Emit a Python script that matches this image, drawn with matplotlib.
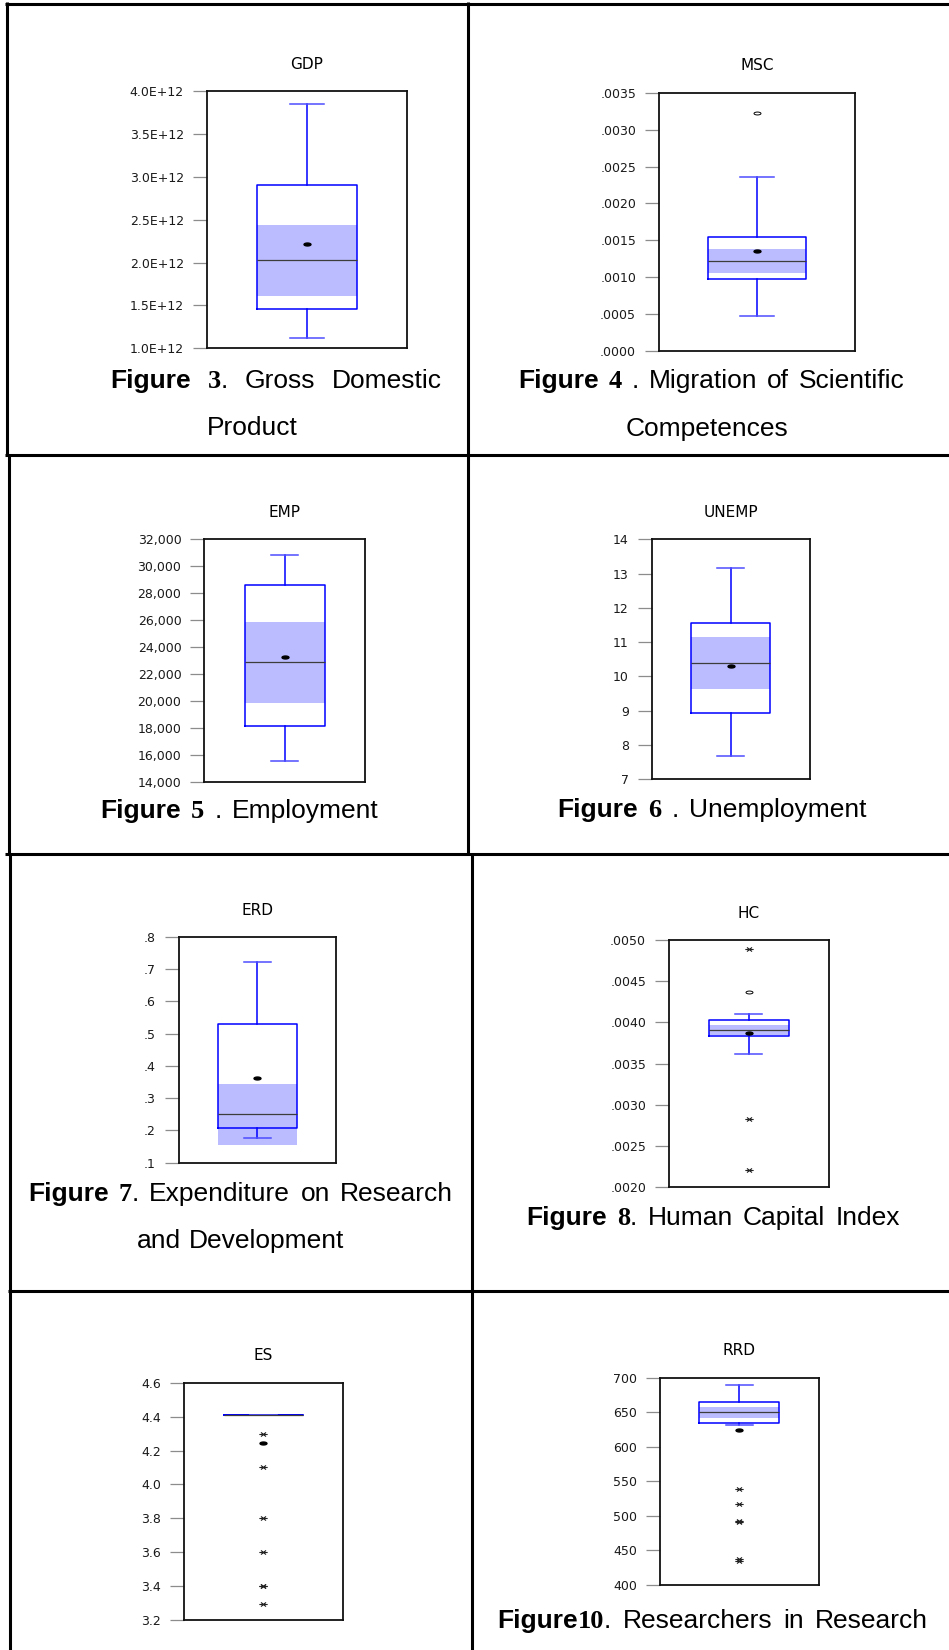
import numpy as np
import matplotlib
matplotlib.use("Agg")
import matplotlib.pyplot as plt
from matplotlib.path import Path

# eight box plots, row by row
titles = ["GDP", "MSC", "EMP", "UNEMP", "ERD", "HC", "ES", "RRD"]
whis_lo = [1.117e12, 0.000474, 15513, 7.68, 0.1766, 0.003613, 4.408, 631.0]
q1 = [1.462e12, 0.000971, 18153, 8.92, 0.2086, 0.003832, 4.407, 634.8]
med = [2.03e12, 0.001224, 22855, 10.40, 0.250, 0.003908, 4.408, 649.9]
q3 = [2.90e12, 0.001541, 28566, 11.57, 0.531, 0.004026, 4.409, 665.2]
whis_hi = [3.848e12, 0.002362, 30791, 13.15, 0.723, 0.004106, 4.409, 689.0]
means = [2.216e12, 0.001351, 23248, 10.30, 0.3636, 0.003875, 4.246, 623.8]
band_lo = [1.61e12, 0.001053, 19859, 9.62, 0.1558, 0.003847, 4.404, 641.2]
band_hi = [2.434e12, 0.001386, 25822, 11.16, 0.343, 0.003969, 4.412, 658.0]
near_out = [[], [0.003221], [], [], [], [0.004369], [], []]
far_out = [[], [], [], [], [],
           [0.004891, 0.002828, 0.002210],
           [4.299, 4.101, 3.802, 3.603, 3.402, 3.398, 3.293],
           [538.3, 516.5, 492.4, 491.4, 436.8, 434.3]]

tick_labels = [
    ["1.0E+12", "1.5E+12", "2.0E+12", "2.5E+12", "3.0E+12", "3.5E+12", "4.0E+12"],
    [".0000", ".0005", ".0010", ".0015", ".0020", ".0025", ".0030", ".0035"],
    ["14,000", "16,000", "18,000", "20,000", "22,000", "24,000", "26,000",
     "28,000", "30,000", "32,000"],
    ["7", "8", "9", "10", "11", "12", "13", "14"],
    [".1", ".2", ".3", ".4", ".5", ".6", ".7", ".8"],
    [".0020", ".0025", ".0030", ".0035", ".0040", ".0045", ".0050"],
    ["3.2", "3.4", "3.6", "3.8", "4.0", "4.2", "4.4", "4.6"],
    ["400", "450", "500", "550", "600", "650", "700"],
]

captions = [
    ["Figure 3. Gross Domestic", "Product"],
    ["Figure 4 . Migration of Scientific", "Competences"],
    ["Figure 5 . Employment"],
    ["Figure 6 . Unemployment"],
    ["Figure 7. Expenditure on Research", "and Development"],
    ["Figure 8. Human Capital Index"],
    [],
    ["Figure10. Researchers in Research"],
]

# layout in pixels of the 949x1650 page
W, H = 949, 1650
axes_px = [  # left, top, right, bottom
    (206.7, 91.0, 407.3, 348.3),
    (659.0, 92.7, 855.3, 351.0),
    (204.3, 539.0, 365.3, 781.7),
    (651.7, 539.3, 810.0, 779.3),
    (178.7, 937.0, 336.0, 1162.7),
    (669.0, 940.0, 828.7, 1187.3),
    (184.0, 1382.7, 342.7, 1620.0),
    (659.7, 1377.7, 818.7, 1584.7),
]
caption_px = [  # x left, x right, baseline, centre of 2nd line, its baseline
    (110, 442, 388, 252, 435),
    (518, 905, 388, 707, 436),
    (100, 379, 818, None, None),
    (557, 867, 817, None, None),
    (28, 453, 1201, 241, 1248),
    (526, 900, 1225, None, None),
    None,
    (497, 928, 1628, None, None),
]
rules = [  # x0, x1, y0, y1
    (5, W, 3.5, 3.5), (5, W, 455.3, 455.3), (5, W, 854.3, 854.3), (8, W, 1291.3, 1291.3),
    (7.0, 7.0, 2, 455), (9.0, 9.0, 455, 854), (10.5, 10.5, 854, H),
    (468.5, 468.5, 2, 854), (472.0, 472.0, 854, H),
]

plt.rcParams["font.family"] = ["DejaVu Sans"]

fig = plt.figure(figsize=(W / 100, H / 100), dpi=100)
ax_bg = fig.add_axes([0, 0, 1, 1])
ax_bg.set_xlim(0, W)
ax_bg.set_ylim(H, 0)
ax_bg.axis("off")
for x0, x1, y0, y1 in rules:
    ax_bg.plot([x0, x1], [y0, y1], color="black", lw=2.2, solid_capstyle="butt")

# markers: flat dot for the mean, flat ring for near outliers, asterisk for far ones
t = np.linspace(0, 2 * np.pi, 40)
ellipse = Path(np.column_stack([np.cos(t), 0.42 * np.sin(t)]), closed=True)
asterisk = Path([(-1, 0), (1, 0), (-0.6, -0.5), (0.6, 0.5), (-0.6, 0.5), (0.6, -0.5)],
                [Path.MOVETO, Path.LINETO] * 3)

blue = "#0000FF"
for i, name in enumerate(titles):
    l, tp, r, b = axes_px[i]
    ax = fig.add_axes([l / W, 1 - b / H, (r - l) / W, (b - tp) / H])
    ticks = [float(s.replace(",", "")) for s in tick_labels[i]]

    ax.bar(0, band_hi[i] - band_lo[i], bottom=band_lo[i], width=1.0,
           color="#BBBBFF", zorder=1)
    stats = dict(whislo=whis_lo[i], q1=q1[i], med=med[i], q3=q3[i],
                 whishi=whis_hi[i], mean=means[i], fliers=[])
    ax.bxp([stats], positions=[0], widths=[1.0], capwidths=[0.34],
           showmeans=True, showfliers=False, zorder=3,
           boxprops=dict(color=blue, lw=1.1),
           whiskerprops=dict(color=blue, lw=1.1),
           capprops=dict(color="#4d4dff", lw=1.1),
           medianprops=dict(color="#3c3c3c", lw=0.9),
           meanprops=dict(marker=ellipse, markersize=5, markerfacecolor="black",
                          markeredgecolor="black"))
    ax.plot(np.zeros(len(near_out[i])), near_out[i], ls="none", marker=ellipse,
            ms=5, mfc="none", mec="black", mew=0.7, zorder=4)
    ax.plot(np.zeros(len(far_out[i])), far_out[i], ls="none", marker=asterisk,
            ms=6, mfc="none", mec="#222222", mew=0.8, zorder=4)

    ax.set_xlim(-1, 1)
    ax.set_ylim(ticks[0], ticks[-1])
    ax.set_xticks([])
    ax.set_yticks(ticks)
    ax.set_yticklabels(tick_labels[i])
    ax.tick_params(axis="y", direction="out", length=10, width=0.9, color="#8c8c8c",
                   labelsize=9, labelcolor="#1a1a1a", pad=6.5)
    for sp in ax.spines.values():
        sp.set_linewidth(1.3)
        sp.set_color("#111111")
    ax.set_title(name, fontsize=11, pad=16)

# captions: bold "Figure", serif number, the rest in Arial-like sans
renderer = fig.canvas.get_renderer()
styles = {"b": dict(family="Liberation Sans", weight="bold"),
          "n": dict(family="Liberation Serif", weight="bold"),
          "r": dict(family="Liberation Sans")}
cap_size = 19


def split_word(word):
    runs = []
    if word.startswith("Figure"):
        runs.append(["Figure", "b"])
        word = word[6:]
    for ch in word:
        kind = "n" if ch.isdigit() else "r"
        if runs and runs[-1][1] == kind:
            runs[-1][0] += ch
        else:
            runs.append([ch, kind])
    return runs


def place_line(text, x0, x1, y, centred=False):
    words = []
    for w in text.split():
        pieces = []
        for s, k in split_word(w):
            tx = ax_bg.text(0, y, s, fontsize=cap_size, va="baseline", ha="left",
                            color="black", **styles[k])
            pieces.append((tx, tx.get_window_extent(renderer).width))
        words.append(pieces)
    widths = [sum(wd for _, wd in p) for p in words]
    if centred:
        gap = 0.3 * cap_size * 100 / 72
        x = x0 - (sum(widths) + gap * (len(words) - 1)) / 2
    else:
        gap = (x1 - x0 - sum(widths)) / max(len(words) - 1, 1)
        x = x0
    for p in words:
        for tx, wd in p:
            tx.set_x(x)
            x += wd
        x += gap


for i, lines in enumerate(captions):
    if not lines:
        continue
    x0, x1, yb, cx, yb2 = caption_px[i]
    place_line(lines[0], x0, x1, yb)
    if len(lines) > 1:
        place_line(lines[1], cx, None, yb2, centred=True)

fig.savefig("out.png", dpi=100, facecolor="white")
